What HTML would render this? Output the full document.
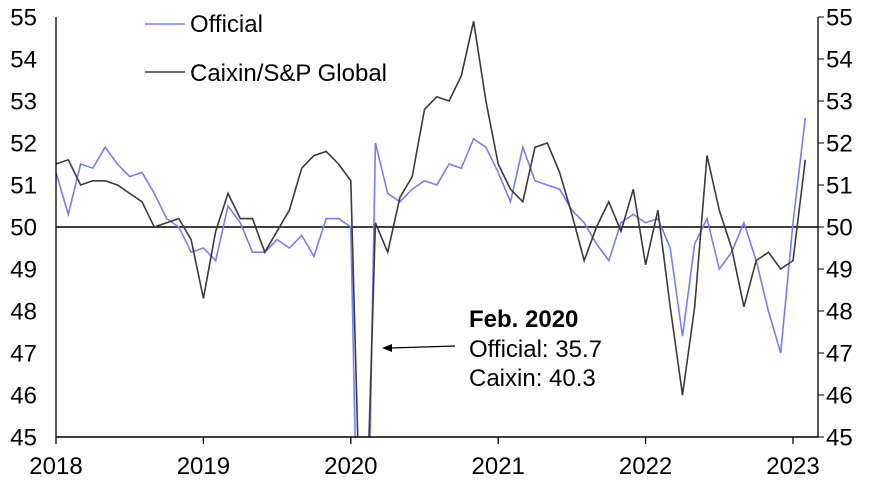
<!DOCTYPE html>
<html><head><style>
html,body{margin:0;padding:0;background:#fff;overflow:hidden;width:871px;height:480px;}
svg{display:block;}
svg text{font-family:"Liberation Sans",Arial,sans-serif;fill:#000;}
</style></head><body>
<svg width="871" height="480" xmlns="http://www.w3.org/2000/svg" id="s">
<defs><clipPath id="c"><rect x="56" y="0" width="762" height="437"/></clipPath></defs>
<g id="ticks"></g>
<line x1="56" y1="227" x2="818" y2="227" stroke="#000" stroke-width="1.5"/>
<g clip-path="url(#c)">
<polyline id="off" fill="none" stroke="#7b7bf7" stroke-width="1.6"/>
<polyline id="cx" fill="none" stroke="#3a3a3a" stroke-width="1.6"/>
</g>
<line x1="56" y1="17" x2="56" y2="437" stroke="#000" stroke-width="1.3"/>
<line x1="818" y1="17" x2="818" y2="437" stroke="#000" stroke-width="1.3"/>
<line x1="56" y1="437" x2="818" y2="437" stroke="#000" stroke-width="1.5"/>
<line x1="145" y1="24" x2="185" y2="24" stroke="#7b7bf7" stroke-width="1.6"/>
<text x="190" y="32" font-size="24">Official</text>
<line x1="145" y1="72" x2="185" y2="72" stroke="#3a3a3a" stroke-width="1.6"/>
<text x="190" y="81" font-size="24">Caixin/S&amp;P Global</text>
<line x1="455" y1="346" x2="390" y2="348" stroke="#000" stroke-width="1.3"/>
<path d="M382,348 L392,344 L392,352 Z" fill="#000"/>
<text x="469" y="327" font-size="24" font-weight="bold">Feb. 2020</text>
<text x="469" y="357" font-size="24">Official: 35.7</text>
<text x="469" y="386" font-size="24">Caixin: 40.3</text>
</svg>
<script>
var off=[51.3,50.3,51.5,51.4,51.9,51.5,51.2,51.3,50.8,50.2,50.0,49.4,49.5,49.2,50.5,50.1,49.4,49.4,49.7,49.5,49.8,49.3,50.2,50.2,50.0,35.7,52.0,50.8,50.6,50.9,51.1,51.0,51.5,51.4,52.1,51.9,51.3,50.6,51.9,51.1,51.0,50.9,50.4,50.1,49.6,49.2,50.1,50.3,50.1,50.2,49.5,47.4,49.6,50.2,49.0,49.4,50.1,49.2,48.0,47.0,50.1,52.6];
var cx=[51.5,51.6,51.0,51.1,51.1,51.0,50.8,50.6,50.0,50.1,50.2,49.7,48.3,49.9,50.8,50.2,50.2,49.4,49.9,50.4,51.4,51.7,51.8,51.5,51.1,40.3,50.1,49.4,50.7,51.2,52.8,53.1,53.0,53.6,54.9,53.0,51.5,50.9,50.6,51.9,52.0,51.3,50.3,49.2,50.0,50.6,49.9,50.9,49.1,50.4,48.1,46.0,48.1,51.7,50.4,49.5,48.1,49.2,49.4,49.0,49.2,51.6];
function pts(a){return a.map(function(v,i){return (56+i*147.4/12).toFixed(1)+","+(227-(v-50)*42).toFixed(1)}).join(" ");}
document.getElementById("off").setAttribute("points",pts(off));
document.getElementById("cx").setAttribute("points",pts(cx));
var g=document.getElementById("ticks"),h="";
for(var v=45;v<=55;v++){var y=227-(v-50)*42;
h+='<line x1="818" y1="'+y+'" x2="824" y2="'+y+'" stroke="#000"/>';
h+='<text x="37" y="'+(y+8.5)+'" font-size="24" text-anchor="end">'+v+'</text><text x="826" y="'+(y+8.5)+'" font-size="24">'+v+'</text>';}
for(var k=0;k<6;k++){var x=56+k*147.4;
h+='<line x1="'+x+'" y1="437" x2="'+x+'" y2="444" stroke="#000" stroke-width="1.3"/><text x="'+x+'" y="474" font-size="24" text-anchor="middle">'+(2018+k)+'</text>';}
g.innerHTML=h;
</script>
</body></html>
